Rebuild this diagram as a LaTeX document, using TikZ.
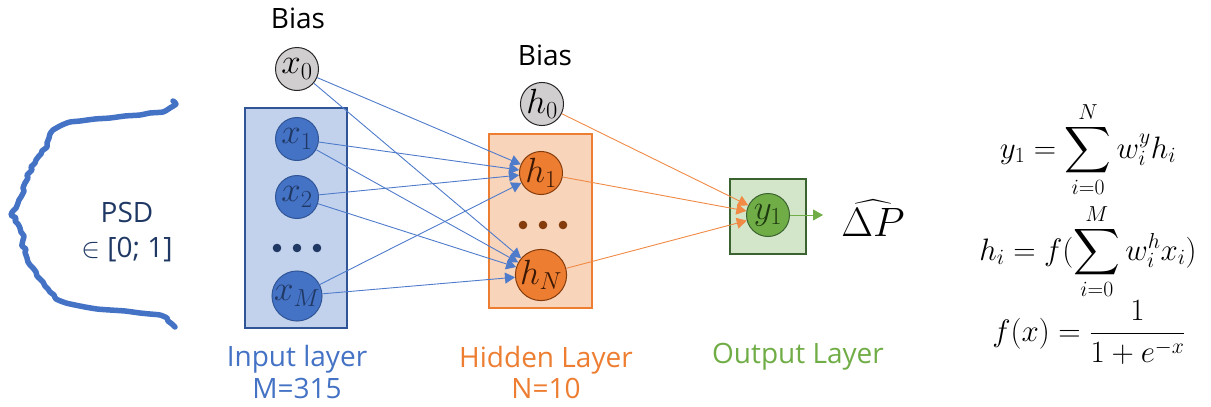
\RequirePackage{fix-cm}
\documentclass[tikz,border=0pt]{standalone}
\usepackage{amsmath}
\usepackage{graphicx}
\usepackage[no-math]{fontspec}
\setmainfont{Open Sans}
\usetikzlibrary{arrows.meta}
\definecolor{bfill}{HTML}{4472C4}
\definecolor{bdark}{HTML}{2F5597}
\definecolor{navy}{HTML}{203864}
\definecolor{bbox}{HTML}{C3D2EC}
\definecolor{ofill}{HTML}{ED7D31}
\definecolor{odark}{HTML}{843C0C}
\definecolor{otext}{HTML}{3A1805}
\definecolor{obox}{HTML}{F8D4BA}
\definecolor{gfill}{HTML}{70AD47}
\definecolor{gdark}{HTML}{3B6330}
\definecolor{gtext}{HTML}{1E3A10}
\definecolor{gbox}{HTML}{D3E6CA}
\definecolor{grayfill}{HTML}{D0CECE}
\definecolor{blueline}{HTML}{4F7BCB}
\definecolor{orangeline}{HTML}{F08A45}
\newcommand{\mybigsum}{\mathop{\vcenter{\hbox{\scalebox{1.3}{$\displaystyle\sum$}}}}\limits}
\tikzset{
  neuron/.style={circle, minimum size=43pt, inner sep=0pt, line width=1pt, font=\fontsize{35}{38}\selectfont},
  grayn/.style={neuron, draw=black!85, fill=grayfill, text=black},
  bluen/.style={neuron, draw=bdark, fill=bfill, text=navy},
  orangen/.style={neuron, draw=odark, fill=ofill, text=otext},
  greenn/.style={neuron, draw=gdark, fill=gfill, text=gtext},
  layerbox/.style={rectangle, inner sep=0pt, line width=1.3pt},
  lab/.style={font=\fontsize{28}{34}\selectfont, inner sep=0pt, anchor=base},
  eq/.style={font=\fontsize{31}{36}\selectfont, inner sep=0pt, anchor=base},
  bconn/.style={draw=blueline, line width=0.9pt, -{Triangle[length=10pt,width=11pt]}},
  oconn/.style={draw=orangeline, line width=0.9pt, -{Triangle[length=10pt,width=11pt]}},
  gconn/.style={draw=gfill, line width=1pt, -{Triangle[length=10pt,width=11pt]}},
}
\begin{document}
\begin{tikzpicture}[x=1pt,y=-1pt]
\useasboundingbox (0,0) rectangle (1211,407);
% PSD curve
\draw[bfill, line width=5.5pt, line cap=round, line join=round]
 plot[smooth, tension=0.4] coordinates {
 (173,101) (176,104) (170,108) (163,112) (150,113) (140,115) (125,116) (110,118) (95,119) (80,121) (70,122) (62,125)
 (53,130) (50,134) (49,138) (47,143) (47,147) (42,151) (41,154) (39,156) (36,160) (35,163) (31,167) (32,170) (27,175) (28,178) (25,183)
 (23,188) (24,191) (21,197) (19,200) (18,203) (16,208) (13,211) (11,215) (16,218) (15,221) (18,224) (20,228) (21,232) (24,236) (23,240)
 (22,246) (26,249) (25,252) (27,258) (28,262) (30,265) (33,268) (36,272) (37,276) (40,279) (43,282) (45,286) (48,289) (50,292) (54,295) (56,299)
 (66,303) (75,305) (85,307) (97,309) (110,310) (125,311) (140,313) (150,314) (160,315) (167,318) (168,321) (172,324) (175,327)};
\node[lab, text=navy] (psd) at (127,222) {PSD};
\node[lab, text=navy] (range) at (127,257) {$\in$ [0; 1]};
% layer boxes
\node[layerbox, draw=bdark, fill=bbox, minimum width=102pt, minimum height=220pt] (inbox) at (296,218) {};
\node[layerbox, draw=ofill, fill=obox, minimum width=103pt, minimum height=174pt] (hidbox) at (540.5,221) {};
\node[layerbox, draw=gdark, fill=gbox, minimum width=76pt, minimum height=75pt] (outbox) at (768,216.5) {};
% bias labels
\node[lab] (bias1) at (298,28) {Bias};
\node[lab] (bias2) at (545,65) {Bias};
% neurons
\node[grayn] (x0) at (297,69) {$x_0$};
\node[bluen] (x1) at (297,139) {$x_1$};
\node[bluen] (x2) at (297,197) {$x_2$};
\node[bluen] (xM) at (297,296) {$x_M$};
\node[grayn] (h0) at (542,104) {$h_0$};
\node[orangen] (h1) at (541,173) {$h_1$};
\node[orangen] (hN) at (541,275) {$h_N$};
\node[greenn] (y1) at (768,215) {$y_1$};
% dots
\fill[navy] (277,248) circle (4.3pt) (297,248) circle (4.3pt) (317,248) circle (4.3pt);
\fill[odark] (523,225) circle (4.3pt) (543,225) circle (4.3pt) (563,225) circle (4.3pt);
% connections
\foreach \s in {x0,x1,x2,xM}{
  \draw[bconn] (\s) -- (h1);
  \draw[bconn] (\s) -- (hN);
}
\foreach \s in {h0,h1,hN}{
  \draw[oconn] (\s) -- (y1);
}
\coordinate (outend) at (823,215);
\draw[gconn] (y1) -- (outend);
\node[inner sep=0pt, anchor=base, font=\fontsize{41}{46}\selectfont] (dp) at (873,236) {$\widehat{\Delta P}$};
% layer labels
\node[lab, text=bfill] (inlab) at (297,366) {Input layer};
\node[lab, text=bfill] (inM) at (297,398) {M=315};
\node[lab, text=ofill] (hidlab) at (546,367) {Hidden Layer};
\node[lab, text=ofill] (hidN) at (546,398) {N=10};
\node[lab, text=gfill] (outlab) at (798,363) {Output Layer};
% equations
\node[eq] (eq1) at (1088,158) {$y_1 = \mybigsum_{i=0}^{N} w_i^{y} h_i$};
\node[eq] (eq2) at (1088,260) {$h_i = f(\mybigsum_{i=0}^{M} w_i^{h} x_i)$};
\node[eq] (eq3) at (1089,341) {$f(x) = \dfrac{1}{1+e^{-x}}$};
\end{tikzpicture}
\end{document}
